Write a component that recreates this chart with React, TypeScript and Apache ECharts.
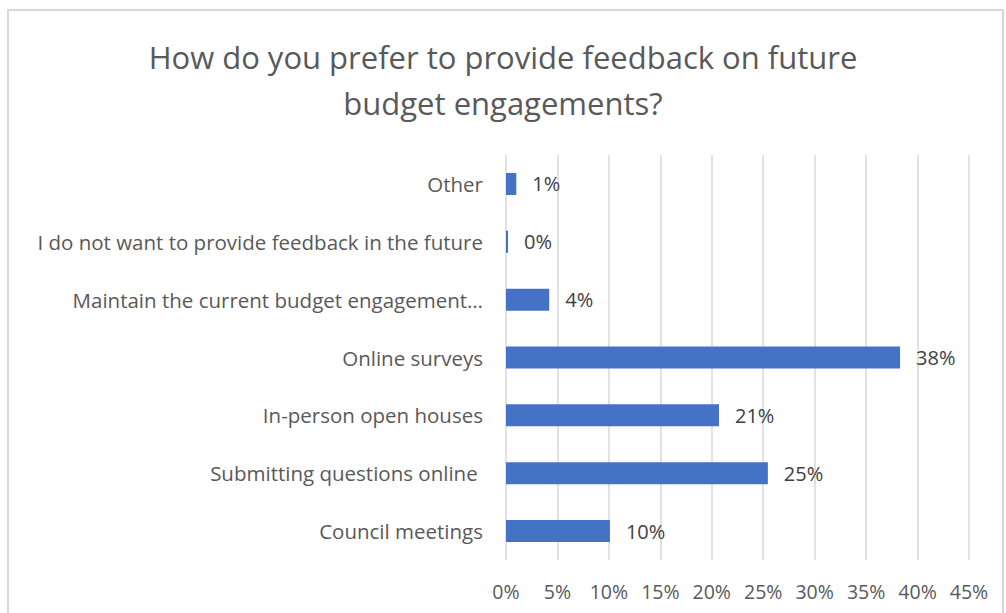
import React, { useEffect, useRef } from "react";
import * as echarts from "echarts";

const categories = [
  "Other",
  "I do not want to provide feedback in the future",
  "Maintain the current budget engagement…",
  "Online surveys",
  "In-person open houses",
  "Submitting questions online ",
  "Council meetings",
];
const values = [1.0, 0.2, 4.2, 38.3, 20.7, 25.45, 10.1];
const xTicks = { min: 0, max: 45, interval: 5 };
const titleText = "How do you prefer to provide feedback on future\nbudget engagements?";

export default function App() {
  const ref = useRef<HTMLDivElement>(null);
  useEffect(() => {
    if (!ref.current) return;
    const chart = echarts.init(ref.current, null, { renderer: "svg" });
    const font = "Open Sans";
    chart.setOption({
      animation: false,
      backgroundColor: "#ffffff",
      title: {
        text: titleText,
        left: "center",
        top: 29,
        textStyle: {
          fontFamily: font,
          fontSize: 31,
          fontWeight: "normal",
          color: "#595959",
          lineHeight: 46,
        },
      },
      graphic: [
        {
          type: "rect",
          shape: { x: 8, y: 10, width: 995, height: 640 },
          style: { fill: "none", stroke: "#d9d9d9", lineWidth: 2 },
          silent: true,
        },
      ],
      grid: { left: 506, right: 37, top: 155, bottom: 53 },
      xAxis: {
        type: "value",
        min: xTicks.min,
        max: xTicks.max,
        interval: xTicks.interval,
        axisLine: { show: false },
        axisTick: { show: false },
        splitLine: { show: true, lineStyle: { color: "#d9d9d9", width: 1.5 } },
        axisLabel: {
          formatter: (v: number) => `${v}%`,
          fontFamily: font,
          fontSize: 19.5,
          color: "#595959",
          margin: 21,
        },
      },
      yAxis: {
        type: "category",
        data: categories,
        inverse: true,
        axisLine: { show: false },
        axisTick: { show: false },
        axisLabel: {
          fontFamily: font,
          fontSize: 20.5,
          color: "#595959",
          margin: 23,
        },
      },
      series: [
        {
          type: "bar",
          data: values,
          barWidth: 22,
          itemStyle: { color: "#4472C4" },
          label: {
            show: true,
            position: "right",
            distance: 16,
            formatter: (p: any) => `${Math.round(p.value)}%`,
            fontFamily: font,
            fontSize: 20,
            color: "#404040",
          },
        },
      ],
    });
    return () => chart.dispose();
  }, []);
  return (
    <div
      ref={ref}
      style={{ position: "fixed", left: 0, top: 0, width: 1006, height: 613 }}
    />
  );
}
